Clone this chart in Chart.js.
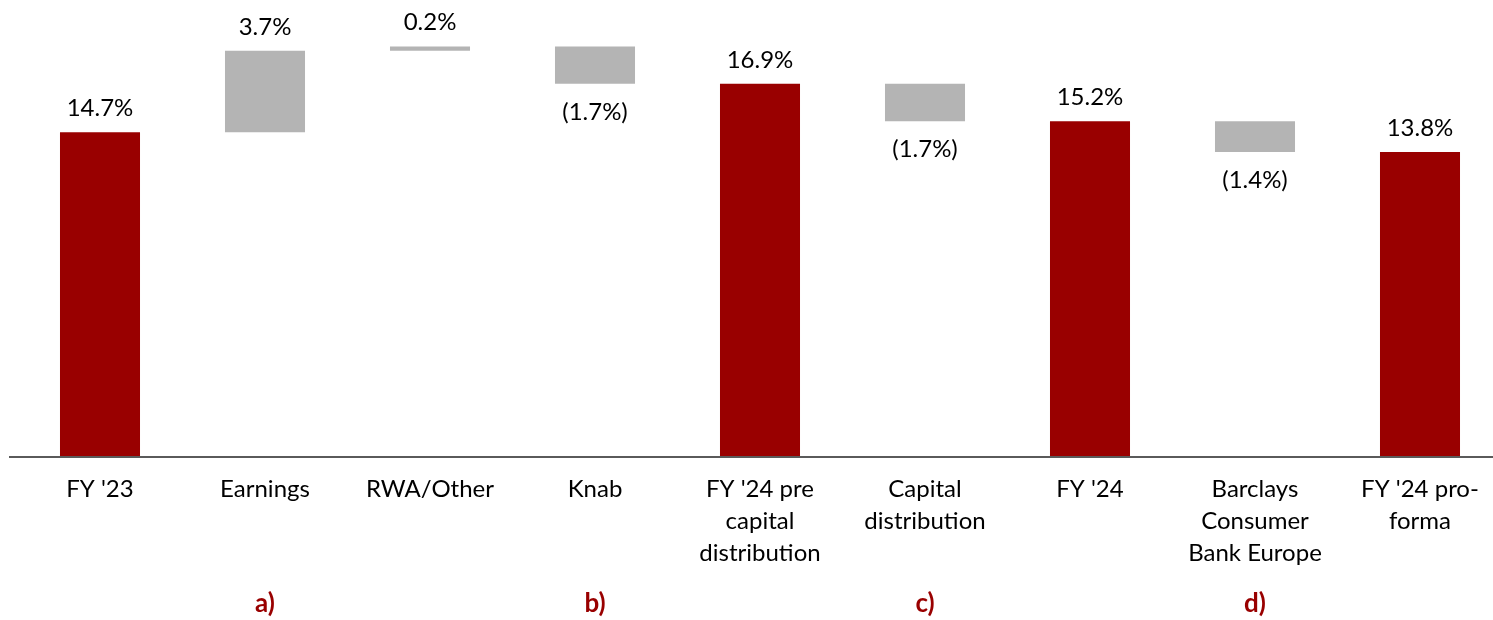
<!DOCTYPE html>
<html>
<head>
<meta charset="utf-8">
<script src="https://cdn.jsdelivr.net/npm/chart.js@4.4.1/dist/chart.umd.min.js"></script>
<style>
  html, body { margin: 0; padding: 0; background: #fff; overflow: hidden; }
  #wrap { width: 1512px; height: 620px; }
</style>
</head>
<body>
<div id="wrap"><canvas id="chartWaterfall" width="1512" height="620"></canvas></div>
<script>
const categories = [
    ["FY '23"],
    ["Earnings"],
    ["RWA/Other"],
    ["Knab"],
    ["FY '24 pre", "capital", "distribution"],
    ["Capital", "distribution"],
    ["FY '24"],
    ["Barclays", "Consumer", "Bank Europe"],
    ["FY '24 pro-", "forma"]
];
const changes = [14.7, 3.7, 0.2, -1.7, 16.9, -1.7, 15.2, -1.4, 13.8];
const isTotal = [true, false, false, false, true, false, true, false, true];
const notes = ["", "a)", "", "b)", "", "c)", "", "d)", ""];

const RED = '#990000';
const GREY = '#b4b4b4';
const FONT = 'Lato, "Noto Sans", sans-serif';

// floating bars: totals start at zero, deltas hang off the running total
let running = 0;
const ranges = changes.map((v, i) => {
    if (isTotal[i]) {
        running = v;
        return [0, v];
    }
    const r = [running, +(running + v).toFixed(1)];
    running = r[1];
    return r;
});

const fmt = v => v < 0 ? `(${Math.abs(v).toFixed(1)}%)` : `${v.toFixed(1)}%`;

const waterfallExtras = {
    id: 'waterfallExtras',
    afterDatasetsDraw(chart) {
        const c = chart.ctx;
        const meta = chart.getDatasetMeta(0);
        const x = chart.scales.x, y = chart.scales.y;

        // baseline
        const y0 = Math.round(y.getPixelForValue(0)) + 1;
        c.save();
        c.strokeStyle = '#5a5a5a';
        c.lineWidth = 2;
        c.beginPath();
        c.moveTo(9, y0);
        c.lineTo(chart.width, y0);
        c.stroke();

        // value labels
        c.font = `24px ${FONT}`;
        c.fillStyle = '#000';
        c.textAlign = 'center';
        c.textBaseline = 'middle';
        meta.data.forEach((bar, i) => {
            const top = Math.min(bar.y, bar.base);
            const bottom = Math.max(bar.y, bar.base);
            const ly = changes[i] < 0 ? bottom + 28 : top - 24;
            c.fillText(fmt(changes[i]), bar.x, ly);
        });

        // footnote markers
        c.font = `bold 26px ${FONT}`;
        c.fillStyle = RED;
        notes.forEach((n, i) => {
            if (n) c.fillText(n, x.getPixelForValue(i), 604);
        });
        c.restore();
    }
};

var ctx = document.getElementById('chartWaterfall').getContext('2d');

var chart = new Chart(ctx, {
    type: 'bar',
    data: {
        labels: categories,
        datasets: [{
            data: ranges,
            backgroundColor: isTotal.map(t => t ? RED : GREY),
            borderWidth: 0,
            barPercentage: 0.485,
            categoryPercentage: 1
        }]
    },
    options: {
        responsive: false,
        animation: false,
        layout: { padding: { left: 17.5, right: 9.5, top: 15.6, bottom: 0 } },
        plugins: {
            legend: { display: false },
            tooltip: { enabled: false }
        },
        scales: {
            x: {
                grid: { display: false, drawTicks: false },
                border: { display: false },
                ticks: {
                    color: '#000',
                    padding: 17,
                    maxRotation: 0,
                    autoSkip: false,
                    font: { family: FONT, size: 24, lineHeight: '32px' }
                },
                afterFit(scale) { scale.height = 164; }
            },
            y: {
                display: false,
                min: 0,
                max: 20
            }
        }
    },
    plugins: [waterfallExtras]
});
</script>
</body>
</html>
